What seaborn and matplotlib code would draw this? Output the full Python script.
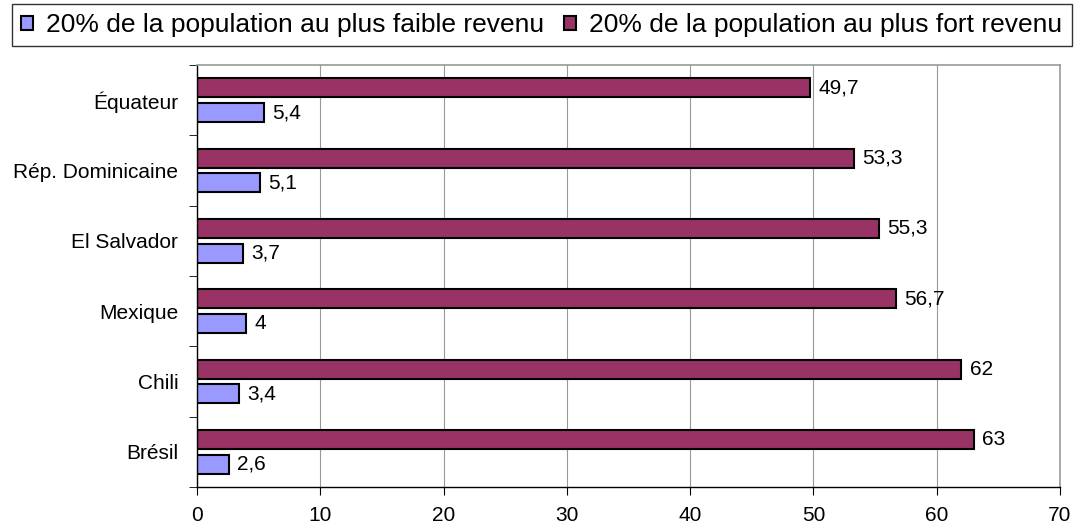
import pandas as pd
import numpy as np
import matplotlib.pyplot as plt
import seaborn as sns
from matplotlib.patches import Patch

# Données
pays = ['Équateur', 'Rép. Dominicaine', 'El Salvador', 'Mexique', 'Chili', 'Brésil']
faible = [5.4, 5.1, 3.7, 4, 3.4, 2.6]
fort = [49.7, 53.3, 55.3, 56.7, 62, 63]
serie_faible = '20% de la population au plus faible revenu'
serie_fort = '20% de la population au plus fort revenu'

df = pd.DataFrame({
    'pays': pays * 2,
    'valeur': fort + faible,
    'serie': [serie_fort] * len(pays) + [serie_faible] * len(pays),
})

sns.set_style('white')
plt.rcParams['font.family'] = ['Liberation Sans', 'DejaVu Sans']
plt.rcParams['text.color'] = 'black'
plt.rcParams['xtick.color'] = 'black'
plt.rcParams['ytick.color'] = 'black'

fig, ax = plt.subplots(figsize=(10.86, 5.28), dpi=100)
fig.subplots_adjust(left=197 / 1086, right=1060 / 1086, top=1 - 65 / 528, bottom=1 - 487 / 528)

couleurs = {serie_fort: '#993366', serie_faible: '#9999FF'}
sns.barplot(data=df, y='pays', x='valeur', hue='serie', order=pays,
            hue_order=[serie_fort, serie_faible], palette=couleurs, saturation=1,
            orient='h', width=0.71, gap=0.24, edgecolor='black', linewidth=1.5,
            legend=False, ax=ax)

# Étiquettes de données avec virgule décimale
def fmt(v):
    return f'{v:g}'.replace('.', ',')

for cont, vals in zip(ax.containers, [fort, faible]):
    ax.bar_label(cont, labels=[fmt(v) for v in vals], padding=6, fontsize=15, color='black')

ax.set_xlim(0, 70)
ax.set_ylim(len(pays) - 0.5, -0.5)
ax.set_xticks(np.arange(0, 71, 10))
ax.xaxis.grid(True, color='#999999', linewidth=0.8)
ax.set_axisbelow(True)
ax.set_xlabel('')
ax.set_ylabel('')

for s in ['top', 'right']:
    ax.spines[s].set_color('#999999')
    ax.spines[s].set_linewidth(1.2)
for s in ['left', 'bottom']:
    ax.spines[s].set_color('black')
    ax.spines[s].set_linewidth(1.0)

ax.tick_params(axis='x', labelsize=15, length=6, direction='out', bottom=True, pad=8)
ax.tick_params(axis='y', labelsize=15, length=0, pad=13.5)
ax.set_yticks(np.arange(-0.5, len(pays), 1), minor=True)
ax.tick_params(axis='y', which='minor', length=6, left=True)

handles = [Patch(facecolor='#9999FF', edgecolor='black', linewidth=1.5, label=serie_faible),
           Patch(facecolor='#993366', edgecolor='black', linewidth=1.5, label=serie_fort)]
leg = fig.legend(handles=handles, loc='upper left', bbox_to_anchor=(12 / 1086, 1 - 4 / 528),
                 ncol=2, fontsize=19, frameon=True, fancybox=False,
                 handlelength=0.45, handleheight=0.45, handletextpad=0.5,
                 columnspacing=0.75, borderpad=0.35, borderaxespad=0)
leg.get_frame().set_edgecolor('black')
leg.get_frame().set_linewidth(1.0)

plt.savefig('out.png', dpi=100)
